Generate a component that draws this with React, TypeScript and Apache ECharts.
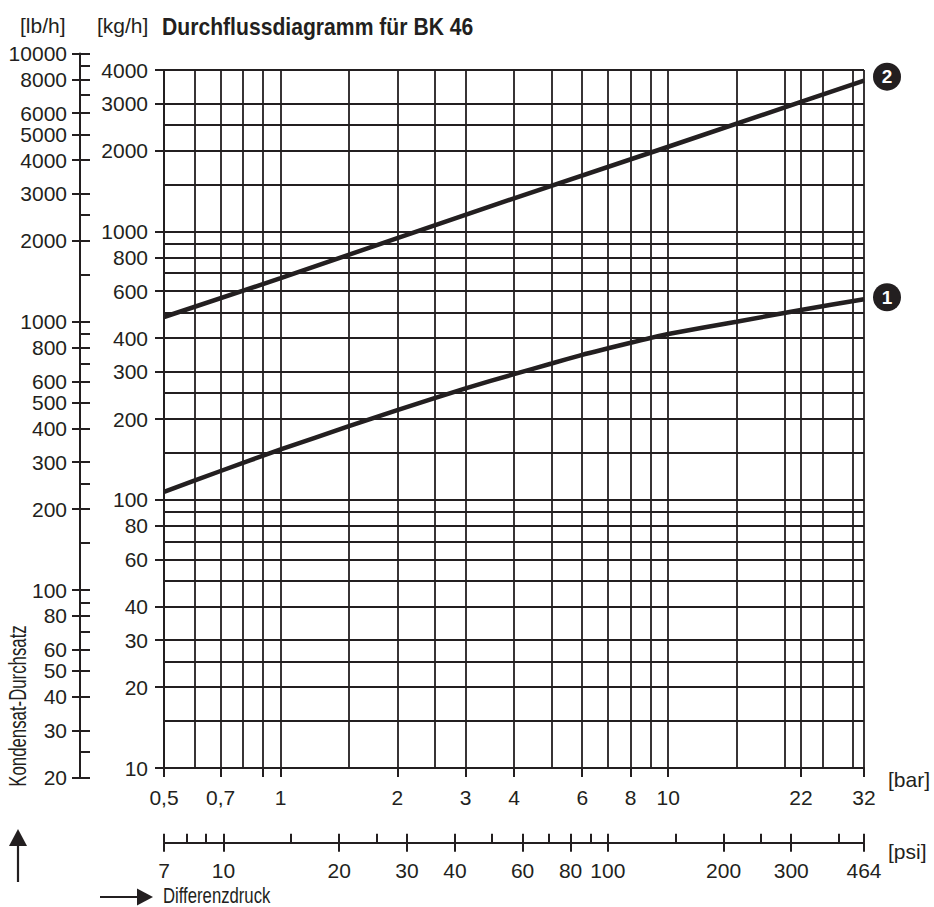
import React, { useEffect, useRef } from "react";
import * as echarts from "echarts";

const TITLE = "Durchflussdiagramm für BK 46";
const UNIT_LB = "[lb/h]";
const UNIT_KG = "[kg/h]";
const UNIT_BAR = "[bar]";
const UNIT_PSI = "[psi]";
const Y_NAME = "Kondensat-Durchsatz";
const X_NAME = "Differenzdruck";

const INK = "#231f20";
const FONT = "'Liberation Sans', Arial, Helvetica, sans-serif";

// Curve 1
const curve1Bar = [0.5, 0.7, 1, 1.5, 2, 3, 4, 5, 6, 7, 8, 9, 10, 15, 22, 32];
const curve1Kg = [107, 128, 154, 188, 216, 260, 294, 322, 347, 367, 385, 401, 415, 461, 510, 559];
// Curve 2
const curve2Bar = [0.5, 1, 2, 4, 10, 22, 32];
const curve2Kg = [480, 670, 945, 1330, 2070, 3040, 3650];

// Axis values
const barGridValues = [0.5, 0.6, 0.7, 0.8, 0.9, 1, 1.5, 2, 2.5, 3, 4, 5, 6, 7, 8, 9, 10, 15, 20, 22, 25, 30, 32];
const barTickValues = [0.5, 0.7, 0.9, 1, 2, 3, 4, 6, 8, 10, 22, 32];
const barLabelValues = [0.5, 0.7, 1, 2, 3, 4, 6, 8, 10, 22, 32];
const kgGridValues = [10, 15, 20, 25, 30, 40, 50, 60, 70, 80, 90, 100, 150, 200, 250, 300, 400, 500, 600, 700, 800, 900, 1000, 1500, 2000, 2500, 3000, 4000];
const kgLabelValues = [10, 20, 30, 40, 60, 80, 100, 200, 300, 400, 600, 800, 1000, 2000, 3000, 4000];
const lbMajorValues = [20, 30, 40, 50, 60, 80, 100, 200, 300, 400, 500, 600, 800, 1000, 2000, 3000, 4000, 5000, 6000, 8000, 10000];
const lbMinorValues = [25, 70, 90, 150, 250, 700, 900, 1500, 2500, 7000, 9000];
const psiMajorValues = [7, 10, 20, 30, 40, 60, 80, 100, 200, 300, 464];
const psiMinorValues = [8, 9, 15, 25, 50, 70, 90, 150, 250, 400];

export default function App() {
  const ref = useRef<HTMLDivElement>(null);

  useEffect(() => {
    const chart = echarts.init(ref.current!, null, { renderer: "svg" });
    const fmtPlain = (v: number) => String(v);
    const fmtBar = (v: number) => String(v).replace(".", ",");
    const axisLine = { show: true, onZero: false, lineStyle: { color: INK, width: 2 } };
    const noLine = { show: false, onZero: false };
    const tickStyle = { color: INK, width: 2 };
    const labelStyle = { color: INK, fontFamily: FONT, fontSize: 21 };
    const gridLine = { show: true, lineStyle: { color: INK, width: 1.8, type: "solid" } };
    const textStyle = (size: number, weight = "normal") => ({
      fill: INK, fontFamily: FONT, fontSize: size, fontWeight: weight,
    });

    const circleLabel = (txt: string, dy: number) => ({
      show: true,
      formatter: "{c|" + txt + "}",
      distance: 9,
      offset: [0, dy],
      rich: {
        c: {
          width: 28,
          height: 28,
          lineHeight: 28,
          align: "center",
          verticalAlign: "middle",
          backgroundColor: INK,
          borderRadius: 14,
          color: "#ffffff",
          fontWeight: "bold",
          fontSize: 19,
          fontFamily: FONT,
        },
      },
    });

    const option: any = {
      animation: false,
      backgroundColor: "#ffffff",
      grid: [
        { left: 164, top: 70, width: 700, height: 698, outerBoundsMode: "none" },
        { left: 80, top: 53.5, width: 10, height: 724, outerBoundsMode: "none" },
        { left: 164, top: 832, width: 700, height: 10.7, outerBoundsMode: "none" },
      ],
      xAxis: [
        {
          type: "log", gridIndex: 0, min: 0.5, max: 32, position: "bottom",
          axisLine,
          axisTick: { show: true, inside: false, length: 9, customValues: barTickValues, lineStyle: tickStyle },
          axisLabel: { ...labelStyle, customValues: barLabelValues, formatter: fmtBar, margin: 19 },
          splitLine: { show: false },
        },
        {
          type: "log", gridIndex: 0, min: 0.5, max: 32, position: "bottom",
          axisLine: noLine,
          axisTick: { show: false, customValues: barGridValues },
          axisLabel: { show: false },
          splitLine: gridLine,
        },
        { type: "value", gridIndex: 1, show: false },
        {
          type: "log", gridIndex: 2, min: 7, max: 464, position: "bottom",
          axisLine,
          axisTick: { show: true, inside: false, length: 9, customValues: psiMajorValues, lineStyle: tickStyle },
          axisLabel: { ...labelStyle, customValues: psiMajorValues, formatter: fmtPlain, margin: 17 },
          splitLine: { show: false },
        },
        {
          type: "log", gridIndex: 2, min: 7, max: 464, position: "bottom",
          axisLine: noLine,
          axisTick: { show: true, inside: true, length: 9, customValues: [...psiMajorValues, ...psiMinorValues], lineStyle: tickStyle },
          axisLabel: { show: false },
          splitLine: { show: false },
        },
      ],
      yAxis: [
        {
          type: "log", gridIndex: 0, min: 10, max: 4000, position: "left",
          axisLine,
          axisTick: { show: true, inside: false, length: 9, customValues: kgLabelValues, lineStyle: tickStyle },
          axisLabel: { ...labelStyle, customValues: kgLabelValues, formatter: fmtPlain, margin: 16 },
          splitLine: { show: false },
        },
        {
          type: "log", gridIndex: 0, min: 10, max: 4000, position: "left",
          axisLine: noLine,
          axisTick: { show: false, customValues: kgGridValues },
          axisLabel: { show: false },
          splitLine: gridLine,
        },
        {
          type: "log", gridIndex: 1, min: 20, max: 10000, position: "left",
          axisLine,
          axisTick: { show: true, inside: false, length: 8, customValues: lbMajorValues, lineStyle: tickStyle },
          axisLabel: { ...labelStyle, customValues: lbMajorValues, formatter: fmtPlain, margin: 13 },
          splitLine: { show: false },
        },
        {
          type: "log", gridIndex: 1, min: 20, max: 10000, position: "left",
          axisLine: noLine,
          axisTick: { show: true, inside: true, length: 10, customValues: [...lbMajorValues, ...lbMinorValues], lineStyle: tickStyle },
          axisLabel: { show: false },
          splitLine: { show: false },
        },
        { type: "value", gridIndex: 2, show: false },
      ],
      series: [
        {
          type: "line", name: "1", xAxisIndex: 0, yAxisIndex: 0,
          data: curve1Bar.map((x, i) => [x, curve1Kg[i]]),
          symbol: "none", showSymbol: false, smooth: 0.2, silent: true, clip: false, z: 5,
          lineStyle: { color: INK, width: 4.5 },
          endLabel: circleLabel("1", -2),
        },
        {
          type: "line", name: "2", xAxisIndex: 0, yAxisIndex: 0,
          data: curve2Bar.map((x, i) => [x, curve2Kg[i]]),
          symbol: "none", showSymbol: false, silent: true, clip: false, z: 5,
          lineStyle: { color: INK, width: 4.5 },
          endLabel: circleLabel("2", -4),
        },
      ],
      graphic: [
        { type: "text", x: 162, y: 27, scaleX: 0.92, silent: true,
          style: { text: TITLE, ...textStyle(23, "bold"), align: "left", verticalAlign: "middle", textAlign: "left", textVerticalAlign: "middle" } },
        { type: "text", x: 20, y: 25, silent: true,
          style: { text: UNIT_LB, ...textStyle(21), align: "left", verticalAlign: "middle", textAlign: "left", textVerticalAlign: "middle" } },
        { type: "text", x: 97, y: 25, silent: true,
          style: { text: UNIT_KG, ...textStyle(21), align: "left", verticalAlign: "middle", textAlign: "left", textVerticalAlign: "middle" } },
        { type: "text", x: 888, y: 779, silent: true,
          style: { text: UNIT_BAR, ...textStyle(21), align: "left", verticalAlign: "middle", textAlign: "left", textVerticalAlign: "middle" } },
        { type: "text", x: 888, y: 851, silent: true,
          style: { text: UNIT_PSI, ...textStyle(21), align: "left", verticalAlign: "middle", textAlign: "left", textVerticalAlign: "middle" } },
        { type: "text", x: 18, y: 706, rotation: Math.PI / 2, scaleX: 0.73, silent: true,
          style: { text: Y_NAME, ...textStyle(23), align: "center", verticalAlign: "middle", textAlign: "center", textVerticalAlign: "middle" } },
        { type: "text", x: 163, y: 895.5, scaleX: 0.76, silent: true,
          style: { text: X_NAME, ...textStyle(22), align: "left", verticalAlign: "middle", textAlign: "left", textVerticalAlign: "middle" } },
        { type: "line", silent: true, shape: { x1: 18, y1: 882, x2: 18, y2: 844 }, style: { stroke: INK, lineWidth: 2.2 } },
        { type: "polygon", silent: true, shape: { points: [[18, 829], [9, 846], [27, 846]] }, style: { fill: INK } },
        { type: "line", silent: true, shape: { x1: 100, y1: 897, x2: 139, y2: 897 }, style: { stroke: INK, lineWidth: 2.2 } },
        { type: "polygon", silent: true, shape: { points: [[153, 897], [137, 888.5], [137, 905.5]] }, style: { fill: INK } },
      ],
    };

    chart.setOption(option);
    return () => chart.dispose();
  }, []);

  return (
    <div
      ref={ref}
      style={{ position: "absolute", left: 0, top: 0, width: 934, height: 907 }}
    />
  );
}
